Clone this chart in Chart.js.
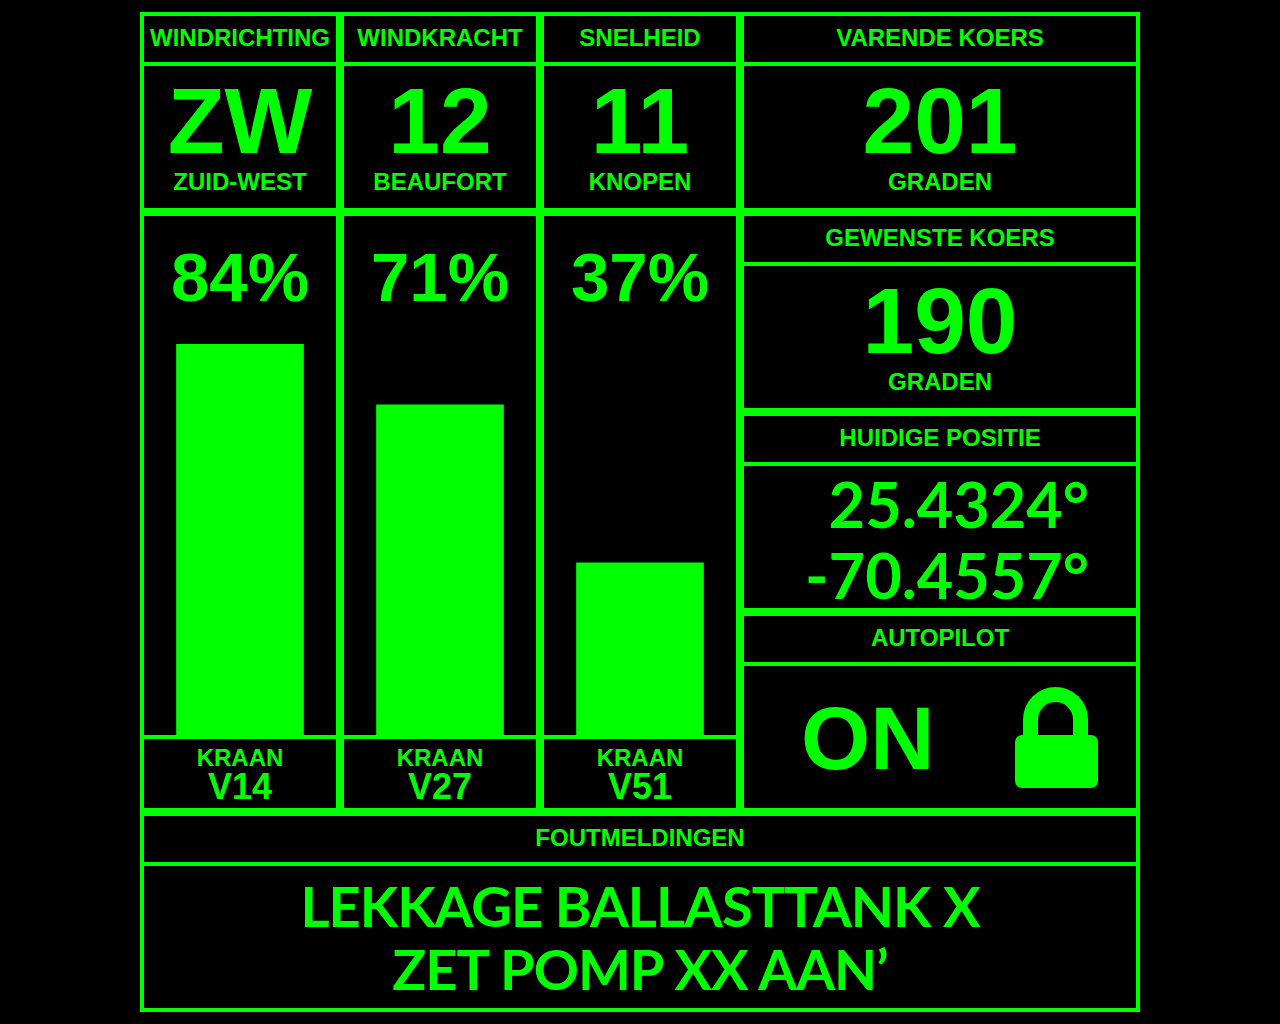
<!DOCTYPE html>
<html>
<head>
<meta charset="utf-8">
<script src="https://cdn.jsdelivr.net/npm/chart.js@4"></script>
<style>
  html, body { margin: 0; padding: 0; background: #000; }
  body { width: 1280px; height: 1024px; position: relative; overflow: hidden;
         font-family: "Liberation Sans", Arial, sans-serif; font-weight: bold; color: #00ff00; }
  .box { position: absolute; border: 4px solid #00ff00; box-sizing: border-box; }
  .head { position: absolute; left: 0; right: 0; top: 0; height: 50px; border-bottom: 4px solid #00ff00; box-sizing: border-box;
          padding-bottom: 3px; display: flex; align-items: center; justify-content: center; font-size: 24px; line-height: 1; }
  .txt { position: absolute; left: 0; right: 0; text-align: center; line-height: 1; white-space: nowrap; }
  .cal { font-family: "Lato", "Open Sans", sans-serif; font-weight: 700; }
  #bars { position: absolute; left: 140px; top: 270px; z-index: 2; }
  .lock-body { position: absolute; left: 1015px; top: 735px; width: 83px; height: 53px; background: #00ff00; border-radius: 7px; }
  .lock-shackle { position: absolute; left: 1023px; top: 687px; width: 65px; height: 60px; box-sizing: border-box;
                  border: 15px solid #00ff00; border-bottom: none; border-radius: 33px 33px 0 0; }
</style>
</head>
<body>
<canvas id="bars" width="600" height="465"></canvas>
<script>
// bovenste rij: meetwaarden
const topHeaders = ['WINDRICHTING', 'WINDKRACHT', 'SNELHEID', 'VARENDE KOERS'];
const topValues = ['ZW', '12', '11', '201'];
const topUnits = ['ZUID-WEST', 'BEAUFORT', 'KNOPEN', 'GRADEN'];

// kranen (percentage open)
const kraanNames = ['V14', 'V27', 'V51'];
const kraanOpen = [84, 71, 37];

// rechter kolom
const gewensteKoers = '190';
const positie = ['25.4324°', '-70.4557°'];
const autopilot = 'ON';

// foutmeldingen
const foutRegels = ['LEKKAGE BALLASTTANK X', 'ZET POMP XX AAN’'];

const cols = [140, 340, 540, 740];
const colW = [200, 200, 200, 400];

function box(x, y, w, h, header) {
  const b = document.createElement('div');
  b.className = 'box';
  Object.assign(b.style, { left: x + 'px', top: y + 'px', width: w + 'px', height: h + 'px' });
  if (header) {
    const hd = document.createElement('div');
    hd.className = 'head';
    hd.textContent = header;
    b.appendChild(hd);
  }
  document.body.appendChild(b);
  return b;
}

function text(parent, str, top, size, cls) {
  const t = document.createElement('div');
  t.className = 'txt' + (cls ? ' ' + cls : '');
  t.style.top = top + 'px';
  t.style.fontSize = size + 'px';
  t.textContent = str;
  parent.appendChild(t);
  return t;
}

// ----- bovenste rij -----
topHeaders.forEach((h, i) => {
  const b = box(cols[i], 12, colW[i], 200, h);
  text(b, topValues[i], 59, 93);
  text(b, topUnits[i], 154, 24);
});

// ----- kraan kolommen -----
kraanNames.forEach((k, i) => {
  const b = box(cols[i], 212, 200, 600);
  text(b, kraanOpen[i] + '%', 27, 69);
  const foot = document.createElement('div');
  Object.assign(foot.style, { position: 'absolute', left: 0, right: 0, top: '519px', bottom: 0, borderTop: '4px solid #00ff00' });
  b.appendChild(foot);
  text(foot, 'KRAAN', 7, 24);
  text(foot, k, 30, 36);
});

// ----- rechter kolom -----
const g = box(740, 212, 400, 200, 'GEWENSTE KOERS');
text(g, gewensteKoers, 59, 93);
text(g, 'GRADEN', 154, 24);

const p = box(740, 412, 400, 200, 'HUIDIGE POSITIE');
positie.forEach((s, i) => {
  const t = text(p, s, 56 + i * 71, 63, 'cal');
  t.style.textAlign = 'right';
  t.style.right = '47px';
});

const a = box(740, 612, 400, 200, 'AUTOPILOT');
const on = text(a, autopilot, 78, 89);
on.style.textAlign = 'left';
on.style.left = '57px';
const sh = document.createElement('div'); sh.className = 'lock-shackle'; document.body.appendChild(sh);
const lb = document.createElement('div'); lb.className = 'lock-body'; document.body.appendChild(lb);

// ----- foutmeldingen -----
const f = box(140, 812, 1000, 200, 'FOUTMELDINGEN');
const ft = text(f, '', 58, 56, 'cal');
ft.style.lineHeight = '63px';
ft.style.letterSpacing = '-1px';
ft.innerHTML = foutRegels.join('<br>');

// ----- staafjes (Chart.js) -----
new Chart(document.getElementById('bars').getContext('2d'), {
  type: 'bar',
  data: {
    labels: kraanNames,
    datasets: [{ data: kraanOpen, backgroundColor: '#00ff00', borderWidth: 0, barThickness: 127 }]
  },
  options: {
    responsive: false,
    animation: false,
    devicePixelRatio: 1,
    layout: { padding: 0 },
    plugins: { legend: { display: false }, tooltip: { enabled: false } },
    scales: {
      x: { display: false },
      y: { display: false, min: 0, max: 100 }
    }
  }
});
</script>
</body>
</html>
